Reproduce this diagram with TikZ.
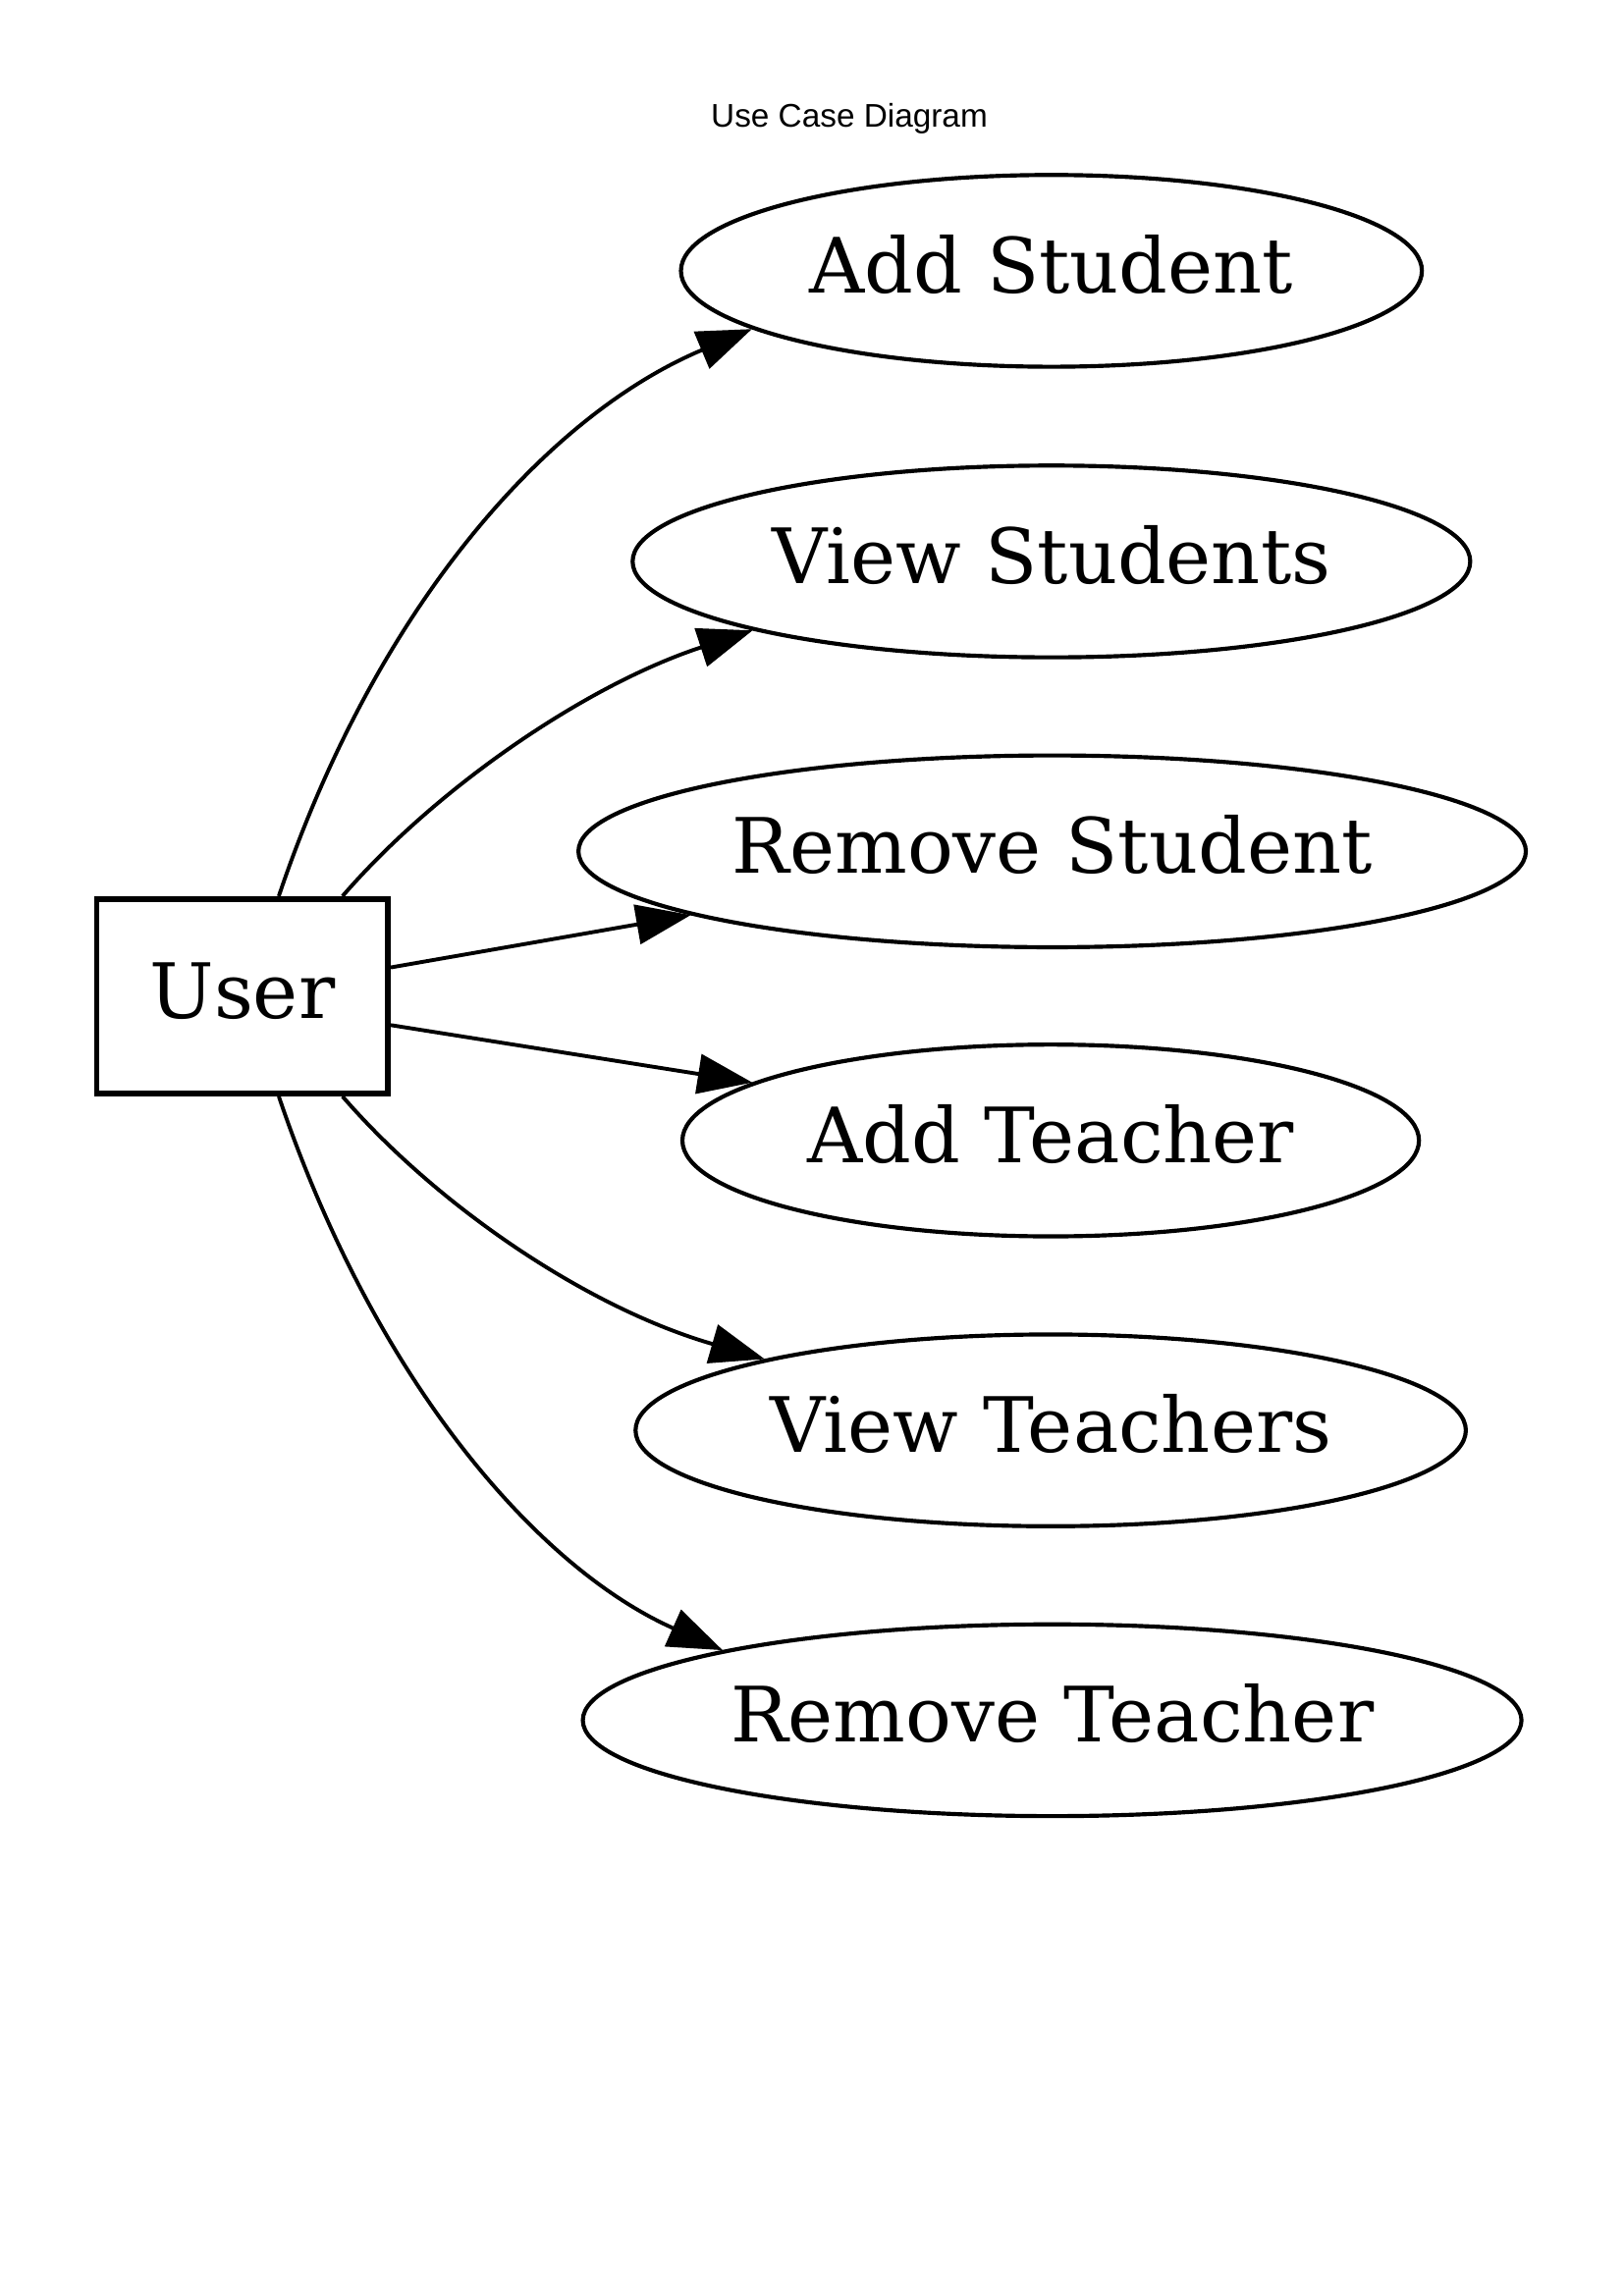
\documentclass[tikz,border=0pt]{standalone}
\usepackage{fontspec}
\setmainfont{DejaVu Serif}
\newfontfamily\titlefont{Liberation Sans}
\usetikzlibrary{arrows.meta,shapes.geometric}
\newdimen\uu \uu=0.53677pt
\begin{document}
\begin{tikzpicture}[x=0.53677pt,y=-0.53677pt,
  lbl/.style={font=\fontsize{28}{32}\selectfont, text height=21pt, text depth=5pt},
  uc/.style={draw, ellipse, line width=1.5pt, inner sep=0pt, minimum height=131\uu, lbl},
  actor/.style={draw, rectangle, line width=2pt, minimum width=199\uu, minimum height=133\uu,
    inner sep=0pt, lbl},
  assoc/.style={line width=1.4pt, -{Triangle[length=20pt,width=14.5pt]}},
  ttl/.style={font=\titlefont\fontsize{12}{14}\selectfont, inner sep=0pt}]
\useasboundingbox (0,0) rectangle (1109,1568.3);
\node[ttl] (title) at (580,81) {Use Case Diagram};
\node[actor] (user) at (165.5,680.5) {User};
\node[uc, minimum width=506\uu] (addstu) at (718,185) {Add Student};
\node[uc, minimum width=572\uu] (viewstu) at (718,383.5) {View Students};
\node[uc, minimum width=647\uu] (remstu) at (718.5,581.5) {Remove Student};
\node[uc, minimum width=503\uu] (addtea) at (717.5,779) {Add Teacher};
\node[uc, minimum width=567\uu] (viewtea) at (717.5,977) {View Teachers};
\node[uc, minimum width=641\uu] (remtea) at (718.5,1175) {Remove Teacher};
\draw[assoc] (user.70) .. controls (255,420) and (370,285) .. (addstu.191);
\draw[assoc] (user.45) .. controls (298,538) and (400,468) .. (viewstu.193);
\draw[assoc] (user.11) -- (remstu.190);
\draw[assoc] (user.-11) -- (addtea.169);
\draw[assoc] (user.-45) .. controls (298,823) and (400,893) .. (viewtea.166);
\draw[assoc] (user.-70) .. controls (255,940) and (365,1070) .. (remtea.168);
\end{tikzpicture}
\end{document}
